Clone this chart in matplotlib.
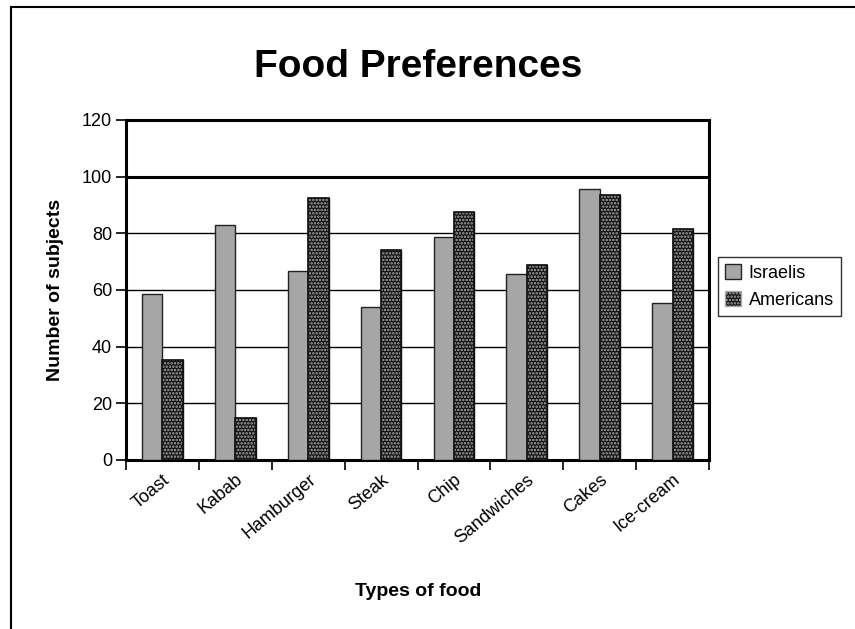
import matplotlib
matplotlib.use("Agg")
import matplotlib.pyplot as plt
import numpy as np
from matplotlib.lines import Line2D
from matplotlib.patches import Patch

categories = ["Toast", "Kabab", "Hamburger", "Steak", "Chip", "Sandwiches", "Cakes", "Ice-cream"]
israelis = [58.5, 83, 66.7, 54.1, 78.8, 65.5, 95.5, 55.3]
americans = [35.3, 14.7, 92.3, 74, 87.4, 69, 93.4, 81.5]
yticks = [0, 20, 40, 60, 80, 100, 120]

plt.rcParams['font.family'] = ['Liberation Sans Narrow', 'Liberation Sans', 'DejaVu Sans']
plt.rcParams['hatch.linewidth'] = 1.2

fig = plt.figure(figsize=(8.55, 6.29), dpi=100)
ax = fig.add_axes([126/855, 1-460/629, (709-126)/855, (460-120)/629])

x = np.arange(len(categories))
w = 0.28
grey = '#a6a6a6'
ax.bar(x - w/2, israelis, w, color=grey, edgecolor='#222222', linewidth=1.0, zorder=3)
ax.bar(x + w/2, americans, w, color='#111111', edgecolor='#111111', linewidth=1.0, zorder=3)
ax.bar(x + w/2, americans, w, color='none', edgecolor='#aaaaaa', hatch='.....', linewidth=0, zorder=4)
ax.bar(x + w/2, americans, w, color='none', edgecolor='#111111', linewidth=1.2, zorder=5)

ax.set_xlim(-0.5, len(categories) - 0.5)
ax.set_ylim(0, 120)
ax.set_yticks(yticks)
ax.set_yticklabels([str(v) for v in yticks], fontsize=13)
for v in yticks[1:-1]:
    ax.axhline(v, color='black', linewidth=2.2 if v == 100 else 1.0, zorder=1)

ax.set_xticks(np.arange(len(categories) + 1) - 0.5, minor=False)
ax.set_xticklabels([])
ax.set_xticks(x, minor=True)
ax.set_xticklabels(categories, minor=True, rotation=40, ha='right', rotation_mode='anchor', fontsize=13)
ax.tick_params(axis='x', which='major', direction='out', length=7, width=1.2)
ax.tick_params(axis='x', which='minor', length=0, pad=8)
ax.tick_params(axis='y', direction='out', length=7, width=1.2, pad=3)
for s in ax.spines.values():
    s.set_linewidth(2.2)

fig.text(418/855, 1-67/629, "Food Preferences", fontsize=28, fontweight='bold', ha='center', va='center')
fig.text(55/855, 1-290/629, "Number of subjects", fontsize=14, fontweight='bold', rotation=90, ha='center', va='center')
fig.text(418/855, 1-592/629, "Types of food", fontsize=14, fontweight='bold', ha='center', va='center')

handles = [Patch(facecolor=grey, edgecolor='#222222', label='Israelis'),
           Patch(facecolor='#111111', edgecolor='#aaaaaa', hatch='.....', label='Americans')]
leg = fig.legend(handles=handles, loc='upper left', bbox_to_anchor=(718/855, 1-257/629),
                 fontsize=13, frameon=True, fancybox=False, edgecolor='black', borderaxespad=0,
                 handlelength=0.9, handleheight=0.9, handletextpad=0.4, labelspacing=0.5, borderpad=0.4)
leg.get_frame().set_linewidth(1.0)

fig.add_artist(Line2D([11/855, 11/855], [0, 1-7/629], color='black', linewidth=1.5, transform=fig.transFigure))
fig.add_artist(Line2D([11/855, 1], [1-7/629, 1-7/629], color='black', linewidth=1.5, transform=fig.transFigure))

fig.savefig("out.png", dpi=100)
